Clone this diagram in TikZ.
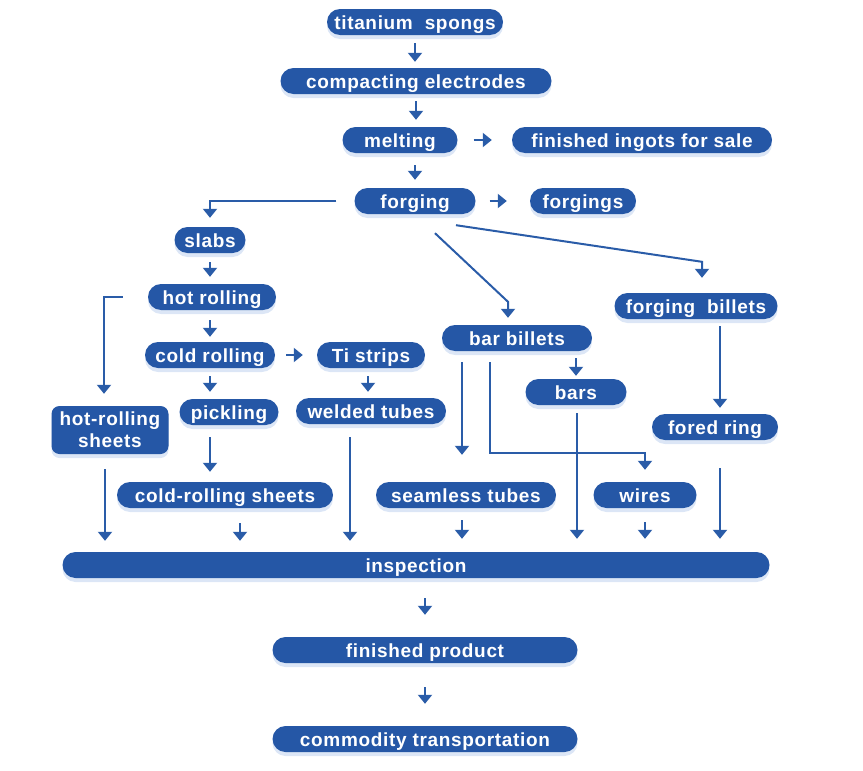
\documentclass[tikz,border=0pt]{standalone}
\usepackage{fontspec}
\setmainfont{Liberation Sans}[LetterSpace=3.5]
\usetikzlibrary{arrows.meta,shadows}
\definecolor{tiblue}{RGB}{37,87,166}
\definecolor{tiline}{RGB}{42,92,168}
\definecolor{tiglow}{RGB}{196,214,240}

\begin{document}
\begin{tikzpicture}[x=1pt,y=-1pt,
    pill/.style={fill=tiblue, text=white, rounded corners=13pt, minimum height=26pt,
        inner sep=0pt, font=\fontsize{19}{22}\selectfont\bfseries,
        drop shadow={shadow xshift=0pt, shadow yshift=-4pt, fill=tiglow, opacity=0.6}},
    box/.style={pill, text height=16pt, text depth=1.5pt},
    arr/.style={draw=tiline, line width=2pt, -{Triangle[width=14pt,length=9pt]}}]
    \useasboundingbox (0,0) rectangle (863,771);
    % process boxes
    \node[box, minimum width=176pt] (ts) at (415,22) {titanium\ \ spongs};
    \node[box, minimum width=271pt] (ce) at (416,81) {compacting electrodes};
    \node[box, minimum width=115pt] (melt) at (400,140) {melting};
    \node[box, minimum width=260pt] (ingot) at (642,140) {finished ingots for sale};
    \node[box, minimum width=121pt] (forg) at (415,201) {forging};
    \node[box, minimum width=106pt] (fgs) at (583,201) {forgings};
    \node[box, minimum width=71pt] (slabs) at (210,240) {slabs};
    \node[box, minimum width=128pt] (hr) at (212,297) {hot rolling};
    \node[box, minimum width=130pt] (cr) at (210,355) {cold rolling};
    \node[box, minimum width=108pt] (tis) at (371,355) {Ti strips};
    \node[box, minimum width=99pt] (pk) at (229,412) {pickling};
    \node[box, minimum width=150pt] (wt) at (371,411) {welded tubes};
    \node[pill, minimum width=117pt, minimum height=48pt, rounded corners=8pt,
        align=center] (hrs) at (110,430) {hot-rolling\\sheets};
    \node[box, minimum width=150pt] (bb) at (517,338) {bar billets};
    \node[box, minimum width=101pt] (bars) at (576,392) {bars};
    \node[box, minimum width=163pt] (fb) at (696,306) {forging\ \ billets};
    \node[box, minimum width=126pt] (fr) at (715,427) {fored ring};
    \node[box, minimum width=216pt] (crs) at (225,495) {cold-rolling sheets};
    \node[box, minimum width=180pt] (st) at (466,495) {seamless tubes};
    \node[box, minimum width=103pt] (wires) at (645,495) {wires};
    \node[box, minimum width=707pt] (insp) at (416,565) {inspection};
    \node[box, minimum width=305pt] (fp) at (425,650) {finished product};
    \node[box, minimum width=305pt] (ct) at (425,739) {commodity transportation};
    % top chain
    \draw[arr, shorten <=8pt, shorten >=6pt] (ts.south) -- (ts.south |- ce.north);
    \draw[arr, shorten <=7pt, shorten >=7pt] (ce.south) -- (ce.south |- melt.north);
    \draw[arr, shorten <=12pt, shorten >=8pt] (forg.north |- melt.south) -- (forg.north);
    \draw[arr, shorten <=16pt, shorten >=20pt] (melt.east) -- (ingot.west);
    \draw[arr, shorten <=14pt, shorten >=23pt] (forg.east) -- (fgs.west);
    % branches from forging
    \draw[arr, shorten <=18pt, shorten >=9pt] (forg.west) -| (slabs.north);
    \draw[arr, shorten >=7pt] ([xshift=20pt,yshift=-19pt]forg.south)
        -- ([xshift=-9pt,yshift=23pt]bb.north) -- ([xshift=-9pt]bb.north);
    \draw[arr, shorten >=15pt] ([xshift=41pt,yshift=-11pt]forg.south)
        -- ([xshift=6pt,yshift=31pt]fb.north) -- ([xshift=6pt]fb.north);
    % sheet line
    \draw[arr, shorten <=9pt, shorten >=7pt] (slabs.south) -- (slabs.south |- hr.north);
    \draw[arr, shorten <=25pt, shorten >=12pt] (hr.west) -| ([xshift=-6pt]hrs.north);
    \draw[arr, shorten <=10pt, shorten >=5pt] (cr.north |- hr.south) -- (cr.north);
    \draw[arr, shorten <=11pt, shorten >=14pt] (cr.east) -- (tis.west);
    \draw[arr, shorten <=8pt, shorten >=6pt] ([xshift=-3pt]tis.south) -- ([xshift=-3pt]tis.south |- wt.north);
    \draw[arr, shorten <=8pt, shorten >=7pt] (cr.south) -- (cr.south |- pk.north);
    \draw[arr, shorten <=12pt, shorten >=10pt] (cr.south |- pk.south) -- (cr.south |- crs.north);
    % bar line
    \draw[arr, shorten <=7pt, shorten >=3pt] (bars.north |- bb.south) -- (bars.north);
    \draw[arr, shorten <=11pt, shorten >=27pt] ([xshift=-4pt]st.north |- bb.south) -- ([xshift=-4pt]st.north);
    \draw[arr, shorten <=11pt, shorten >=12pt] ([xshift=-27pt]bb.south) |- ([yshift=29pt]wires.north) -- (wires.north);
    \draw[arr, shorten <=7pt, shorten >=6pt] ([xshift=5pt]fr.north |- fb.south) -- ([xshift=5pt]fr.north);
    % into inspection
    \draw[arr, shorten <=15pt, shorten >=11pt] ([xshift=-5pt]hrs.south) -- ([xshift=-5pt]hrs.south |- insp.north);
    \draw[arr, shorten <=15pt, shorten >=11pt] ([xshift=15pt]crs.south) -- ([xshift=15pt]crs.south |- insp.north);
    \draw[arr, shorten <=13pt, shorten >=11pt] ([xshift=-21pt]wt.south) -- ([xshift=-21pt]wt.south |- insp.north);
    \draw[arr, shorten <=12pt, shorten >=13pt] ([xshift=-4pt]st.south) -- ([xshift=-4pt]st.south |- insp.north);
    \draw[arr, shorten <=8pt, shorten >=13pt] ([xshift=1pt]bars.south) -- ([xshift=1pt]bars.south |- insp.north);
    \draw[arr, shorten <=14pt, shorten >=13pt] (wires.south) -- (wires.south |- insp.north);
    \draw[arr, shorten <=28pt, shorten >=13pt] ([xshift=5pt]fr.south) -- ([xshift=5pt]fr.south |- insp.north);
    % bottom chain
    \draw[arr, shorten <=20pt, shorten >=22pt] (fp.north |- insp.south) -- (fp.north);
    \draw[arr, shorten <=24pt, shorten >=22pt] (fp.south) -- (ct.north);
\end{tikzpicture}
\end{document}
